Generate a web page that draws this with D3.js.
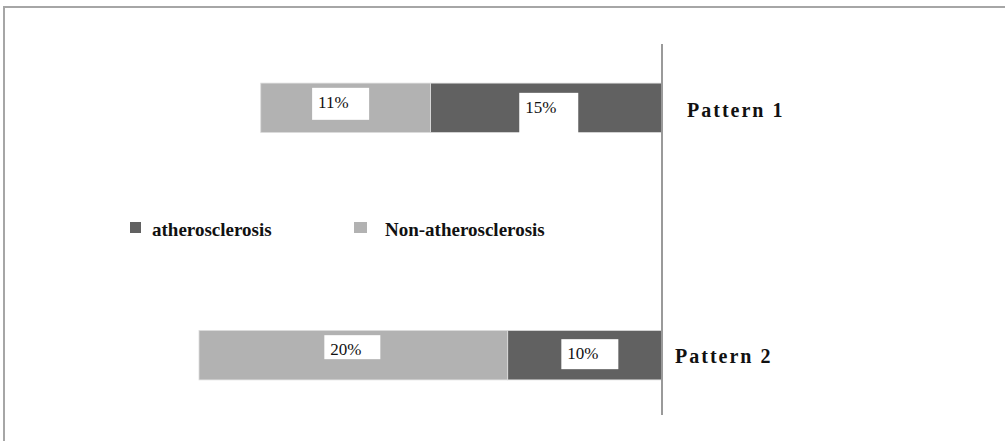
<!DOCTYPE html>
<html>
<head>
<meta charset="utf-8">
<script src="https://cdn.jsdelivr.net/npm/d3@7"></script>
<style>
  html, body { margin: 0; padding: 0; background: #fff; }
  svg { display: block; }
</style>
</head>
<body>
<div id="chart"></div>
<script>
// chart data
const patterns = ["Pattern 1", "Pattern 2"];
const seriesNames = ["atherosclerosis", "Non-atherosclerosis"];
const athero = [15, 10];
const nonAthero = [11, 20];

const colors = ["#616161", "#b2b2b2"];

// hand nudges for the white label boxes: [dx, dy, w, h] per pattern, per series
const boxNudge = [
  [[2.5, 7, 59, 44], [-5, -4, 57, 32]],
  [[5, -1, 57, 30], [-1, -8, 56, 24]]
];
const catDx = [25, 13];
const catDy = [9, 8];

const width = 1005, height = 441;
const zeroX = 662;
const serif = "'Liberation Serif', 'Times New Roman', serif";

const svg = d3.select("#chart")
  .append("svg")
  .attr("width", width)
  .attr("height", height);

// outer frame (right and bottom run off the picture)
svg.append("rect")
  .attr("x", 4)
  .attr("y", 7)
  .attr("width", 1100)
  .attr("height", 500)
  .attr("fill", "none")
  .attr("stroke", "#a6a6a6")
  .attr("stroke-width", 2);

const x = d3.scaleLinear()
  .domain([0, 30])
  .range([zeroX, 199]);

const y = d3.scaleBand()
  .domain(patterns)
  .range([46, 417])
  .paddingInner(0.8)
  .paddingOuter(0.15);

// stack: atherosclerosis sits next to the axis, non-athero further left
const rows = patterns.map((p, i) => ({
  pattern: p,
  segs: [
    { key: 0, x0: 0, x1: athero[i], v: athero[i] },
    { key: 1, x0: athero[i], x1: athero[i] + nonAthero[i], v: nonAthero[i] }
  ]
}));

const g = svg.selectAll(".row")
  .data(rows)
  .enter()
  .append("g")
  .attr("class", "row");

g.selectAll("rect.seg")
  .data(d => d.segs.map(s => Object.assign({ pattern: d.pattern }, s)))
  .enter()
  .append("rect")
  .attr("class", "seg")
  .attr("x", d => x(d.x1))
  .attr("y", d => y(d.pattern))
  .attr("width", d => x(d.x0) - x(d.x1))
  .attr("height", y.bandwidth())
  .attr("fill", d => colors[d.key])
  .attr("stroke", "#dcdcdc")
  .attr("stroke-width", 0.8);

// white value boxes
rows.forEach((r, i) => {
  r.segs.forEach(s => {
    const n = boxNudge[i][s.key];
    const cx = (x(s.x0) + x(s.x1)) / 2 + n[0];
    const cy = y(r.pattern) + y.bandwidth() / 2 + n[1];
    const bx = cx - n[2] / 2;
    const by = cy - n[3] / 2;
    svg.append("rect")
      .attr("x", bx)
      .attr("y", by)
      .attr("width", n[2])
      .attr("height", n[3])
      .attr("fill", "#fff");
    svg.append("text")
      .attr("x", bx + 6)
      .attr("y", by + 20)
      .attr("font-family", serif)
      .attr("font-size", 17)
      .attr("fill", "#111")
      .text(s.v + "%");
  });
});

// vertical axis line
svg.append("line")
  .attr("x1", zeroX)
  .attr("x2", zeroX)
  .attr("y1", 44)
  .attr("y2", 415)
  .attr("stroke", "#9a9a9a")
  .attr("stroke-width", 2);

// category labels on the right
svg.selectAll(".cat")
  .data(patterns)
  .enter()
  .append("text")
  .attr("class", "cat")
  .attr("x", (d, i) => zeroX + catDx[i])
  .attr("y", (d, i) => y(d) + y.bandwidth() / 2 + catDy[i])
  .attr("font-family", serif)
  .attr("font-weight", "bold")
  .attr("font-size", 20)
  .attr("letter-spacing", 2)
  .attr("fill", "#111")
  .text(d => d);

// legend
const legendX = [130, 354];
const legend = svg.selectAll(".legend")
  .data(seriesNames)
  .enter()
  .append("g")
  .attr("class", "legend")
  .attr("transform", (d, i) => `translate(${legendX[i]},222)`);

legend.append("rect")
  .attr("width", (d, i) => i === 0 ? 11 : 13)
  .attr("height", 11)
  .attr("fill", (d, i) => colors[i]);

legend.append("text")
  .attr("x", (d, i) => i === 0 ? 22 : 31)
  .attr("y", 14)
  .attr("font-family", serif)
  .attr("font-weight", "bold")
  .attr("font-size", 19)
  .attr("fill", "#111")
  .text(d => d);
</script>
</body>
</html>
